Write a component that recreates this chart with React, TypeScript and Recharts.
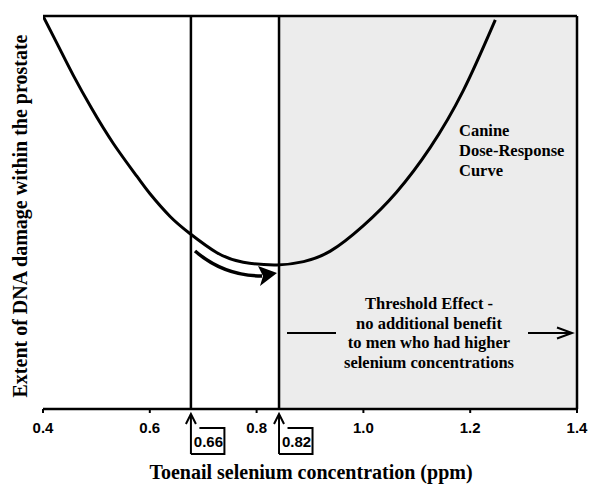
import React from 'react';
import { ComposedChart, Line, XAxis, YAxis, ReferenceLine, ReferenceArea } from 'recharts';

// curve: selenium (ppm) vs. relative DNA damage
const seleniumPpm = [0.4, 0.43, 0.457, 0.491, 0.532, 0.576, 0.6, 0.638, 0.675, 0.725, 0.775, 0.838, 0.888, 0.938, 1.0, 1.062, 1.125, 1.187, 1.247];
const dnaDamage = [6.0, 5.52, 5.09, 4.59, 4.05, 3.55, 3.29, 2.94, 2.68, 2.39, 2.24, 2.2, 2.25, 2.41, 2.8, 3.31, 3.99, 4.86, 5.94];

const xTicks = [0.4, 0.6, 0.8, 1.0, 1.2, 1.4];
const yTicks = [0, 1, 2, 3, 4, 5, 6];

const cutoffValues = [0.677, 0.842];
const cutoffLabels = ['0.66', '0.82'];

const canineLines = ['Canine', 'Dose-Response', 'Curve'];
const thresholdLines = ['Threshold Effect -', 'no additional benefit', 'to men who had higher', 'selenium concentrations'];

const data = seleniumPpm.map((x, i) => ({ x, y: dnaDamage[i] }));

const W = 600;
const H = 502;
const LEFT = 43;
const RIGHT = 577;
const TOP = 16;
const X_MIN = 0.4;
const X_MAX = 1.4;

const px = (v: number) => LEFT + ((v - X_MIN) / (X_MAX - X_MIN)) * (RIGHT - LEFT);

const serif = '"Liberation Serif", "Times New Roman", serif';
const sans = '"Liberation Sans", Arial, sans-serif';

function Overlay() {
  return (
    <svg
      width={W}
      height={H}
      style={{ position: 'absolute', left: 0, top: 0, pointerEvents: 'none' }}
    >
      {/* y title */}
      <text
        x={20}
        y={216}
        transform="rotate(-90, 20, 216)"
        textAnchor="middle"
        dominantBaseline="central"
        fontFamily={serif}
        fontWeight="bold"
        fontSize={20}
        fill="#000"
      >
        Extent of DNA damage within the prostate
      </text>
      {/* x title */}
      <text x={311} y={479} textAnchor="middle" fontFamily={serif} fontWeight="bold" fontSize={20} fill="#000">
        Toenail selenium concentration (ppm)
      </text>

      {canineLines.map((t, i) => (
        <text key={t} x={459} y={136 + i * 20} fontFamily={serif} fontWeight="bold" fontSize={16.5} fill="#000">
          {t}
        </text>
      ))}

      {thresholdLines.map((t, i) => (
        <text key={t} x={429} y={309 + i * 19.7} textAnchor="middle" fontFamily={serif} fontWeight="bold" fontSize={16.5} fill="#000">
          {t}
        </text>
      ))}

      {/* side arrows of threshold note */}
      <line x1={287} y1={333} x2={336} y2={333} stroke="#000" strokeWidth={2} />
      <line x1={528} y1={333} x2={572} y2={333} stroke="#000" strokeWidth={2} />
      <polyline points="557,327.5 572,333 557,338.5" fill="none" stroke="#000" strokeWidth={2} />

      {/* curved arrow toward the minimum */}
      <path d="M195,251 Q224,276 262,276" fill="none" stroke="#000" strokeWidth={3.5} />
      <polygon points="277,273 258,266 263,276 260,286" fill="#000" />

      {/* cutoff arrows with boxed values */}
      {cutoffValues.map((v, i) => {
        const x = px(v);
        return (
          <g key={v}>
            <line x1={x} y1={414} x2={x} y2={454} stroke="#000" strokeWidth={2} />
            <polyline points={`${x - 5},424 ${x},414 ${x + 5},424`} fill="none" stroke="#000" strokeWidth={2} />
            <polyline
              points={`${x + 8.5},428 ${x + 33.5},428 ${x + 33.5},454 ${x},454`}
              fill="none"
              stroke="#000"
              strokeWidth={2}
            />
            <text x={x + 17.5} y={446.5} textAnchor="middle" fontFamily={sans} fontWeight="bold" fontSize={15} fill="#000">
              {cutoffLabels[i]}
            </text>
          </g>
        );
      })}
    </svg>
  );
}

export default function App() {
  return (
    <div style={{ position: 'absolute', left: 0, top: 0, width: W, height: H, background: '#fff' }}>
      <ComposedChart
        width={W}
        height={H}
        data={data}
        margin={{ top: TOP, right: W - RIGHT, bottom: 63, left: LEFT }}
      >
        <XAxis
          type="number"
          dataKey="x"
          domain={[X_MIN, X_MAX]}
          ticks={xTicks}
          allowDataOverflow
          height={30}
          tickFormatter={(v: number) => v.toFixed(1)}
          axisLine={{ stroke: '#000', strokeWidth: 2.5 }}
          tickLine={{ stroke: '#000', strokeWidth: 2 }}
          tickSize={4}
          tickMargin={9}
          tick={{ fill: '#000', fontFamily: sans, fontWeight: 'bold', fontSize: 15 }}
        />
        <YAxis
          type="number"
          domain={[0, 6]}
          ticks={yTicks}
          allowDataOverflow
          width={0}
          tickFormatter={() => ''}
          axisLine={{ stroke: '#000', strokeWidth: 2.5 }}
          tickLine={{ stroke: '#000', strokeWidth: 2 }}
          tickSize={4}
        />
        <ReferenceArea x1={cutoffValues[1]} x2={X_MAX} fill="#ececec" fillOpacity={1} stroke="none" />
        <ReferenceLine y={6} stroke="#000" strokeWidth={2.5} />
        <ReferenceLine x={X_MAX} stroke="#000" strokeWidth={2.5} />
        {cutoffValues.map((v) => (
          <ReferenceLine key={v} x={v} stroke="#000" strokeWidth={2.5} />
        ))}
        <Line
          type="natural"
          dataKey="y"
          stroke="#000"
          strokeWidth={3}
          dot={false}
          activeDot={false}
          isAnimationActive={false}
        />
      </ComposedChart>
      <Overlay />
    </div>
  );
}
